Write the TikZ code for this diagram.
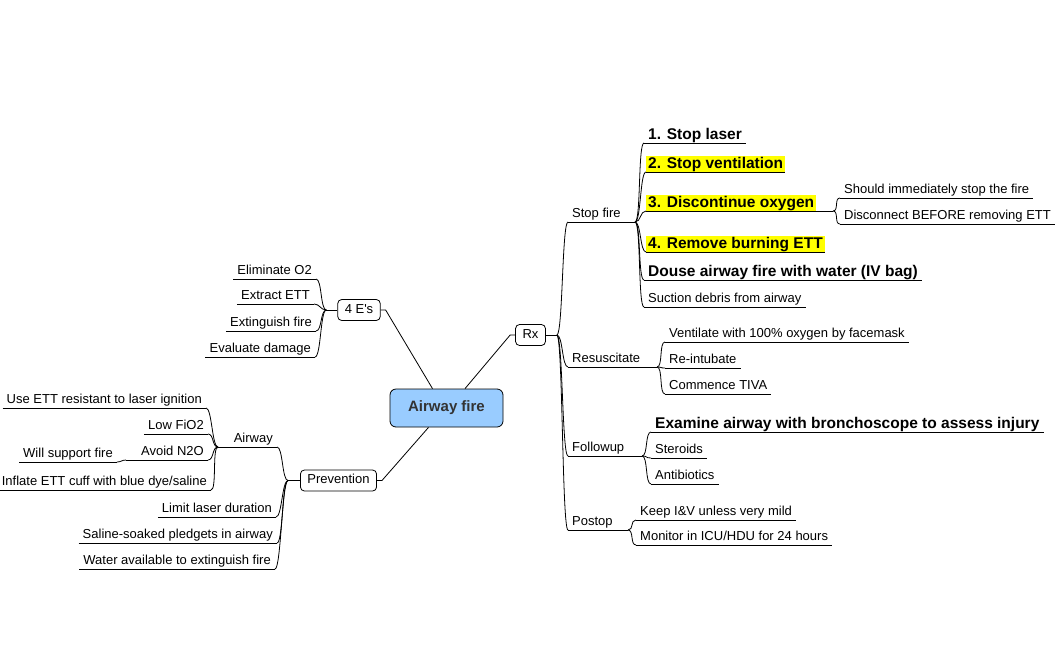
\documentclass[tikz,border=0pt]{standalone}
\usepackage{fontspec}
\setmainfont{Liberation Sans}
\usetikzlibrary{calc}
\definecolor{topicblue}{RGB}{153, 204, 255}
\definecolor{hiyellow}{RGB}{255, 255, 0}
\definecolor{centraltext}{RGB}{51, 51, 51}

\tikzset{
    link/.style={line width=0.8pt},
    leaf/.style={inner xsep=4pt, inner ysep=1pt, text height=9.5pt, text depth=3pt, font=\fontsize{13}{15}\selectfont},
    boldleaf/.style={leaf, text height=12pt, text depth=2pt, font=\fontsize{15.5}{18}\selectfont\bfseries},
    hilite/.style={boldleaf, fill=hiyellow, inner xsep=2pt},
    topic/.style={draw, line width=0.8pt, rounded corners=4pt, fill=white, inner xsep=7pt, minimum height=21pt,
        text height=9.5pt, text depth=3pt, font=\fontsize{13}{15}\selectfont},
    central/.style={draw, line width=0.8pt, rounded corners=6pt, fill=topicblue, minimum width=113pt, minimum height=38pt,
        font=\fontsize{15}{18}\selectfont\bfseries, text=centraltext}
}

\begin{document}
\begin{tikzpicture}[x=1pt, y=-1pt]
    \useasboundingbox (0,0) rectangle (1056,645);

    % main topics
    \node[central] (fire) at (446.5,408) {Airway fire};
    \node[topic] (rx) at (530.5,335) {Rx};
    \node[topic] (es) at (359,310) {4 E\textquotesingle s};
    \node[topic] (pv) at (338.5,480.5) {Prevention};

    \draw[link] (es.east) -- ++(5,0) -- ($(fire.north)+(-14,0)$);
    \draw[link] ($(fire.north)+(18.5,0)$) -- ($(rx.west)+(-5,0)$) -- (rx.west);
    \draw[link] (pv.east) -- ++(5,0) -- ($(fire.south)+(-18,0)$);

    % Rx
    \coordinate (rxJ) at ($(rx.east)+(11,0)$);
    \draw[link] (rx.east) -- (rxJ);
    \node[leaf, anchor=south west] (sf) at (568,222) {Stop fire};
    \node[leaf, anchor=south west] (rs) at (568,367) {Resuscitate};
    \node[leaf, anchor=south west] (fu) at (568,456) {Followup};
    \node[leaf, anchor=south west] (po) at (568,530) {Postop};
    \coordinate (sfJ) at (635,222);
    \coordinate (rsJ) at (657,367);
    \coordinate (fuJ) at (642,456);
    \coordinate (poJ) at (628,530);
    \foreach \n in {sf,rs,fu,po} {
        \draw[link] (rxJ) .. controls +(6,0) and +(-6,0) .. (\n.south west);
        \draw[link] (\n.south west) -- (\n J);
    }

    % Stop fire
    \node[boldleaf, anchor=south west] (s1) at (644,143) {1. Stop laser};
    \node[hilite, anchor=south west] (s2) at (646,172) {2. Stop ventilation};
    \node[hilite, anchor=south west] (s3) at (646,211) {3. Discontinue oxygen};
    \node[hilite, anchor=south west] (s4) at (646,252) {4. Remove burning ETT};
    \node[boldleaf, anchor=south west] (s5) at (644,280) {Douse airway fire with water (IV bag)};
    \node[leaf, anchor=south west] (s6) at (644,307) {Suction debris from airway};
    \foreach \n in {s1,s2,s3,s4,s5,s6}
        \draw[link] (sfJ) .. controls +(6,0) and +(-6,0) .. (\n.south west);

    \coordinate (s3J) at (833,211);
    \draw[link] (s3.south west) -- (s3J);
    \node[leaf, anchor=south west] (s3a) at (840,198) {Should immediately stop the fire};
    \node[leaf, anchor=south west] (s3b) at (840,224) {Disconnect BEFORE removing ETT};
    \foreach \n in {s3a,s3b}
        \draw[link] (s3J) .. controls +(6,0) and +(-6,0) .. (\n.south west);

    % Resuscitate
    \node[leaf, anchor=south west] (r1) at (665,342) {Ventilate with 100\% oxygen by facemask};
    \node[leaf, anchor=south west] (r2) at (665,368) {Re-intubate};
    \node[leaf, anchor=south west] (r3) at (665,394) {Commence TIVA};
    \foreach \n in {r1,r2,r3}
        \draw[link] (rsJ) .. controls +(6,0) and +(-6,0) .. (\n.south west);

    % Followup
    \node[boldleaf, anchor=south west] (f1) at (651,432) {Examine airway with bronchoscope to assess injury};
    \node[leaf, anchor=south west] (f2) at (651,458) {Steroids};
    \node[leaf, anchor=south west] (f3) at (651,484) {Antibiotics};
    \foreach \n in {f1,f2,f3}
        \draw[link] (fuJ) .. controls +(6,0) and +(-6,0) .. (\n.south west);

    % Postop
    \node[leaf, anchor=south west] (o1) at (636,520) {Keep I\&V unless very mild};
    \node[leaf, anchor=south west] (o2) at (636,545) {Monitor in ICU/HDU for 24 hours};
    \foreach \n in {o1,o2}
        \draw[link] (poJ) .. controls +(6,0) and +(-6,0) .. (\n.south west);

    % 4 E's
    \coordinate (esJ) at ($(es.west)+(-11,0)$);
    \draw[link] (es.west) -- (esJ);
    \node[leaf, anchor=south east] (e1) at (316,279) {Eliminate O2};
    \node[leaf, anchor=south east] (e2) at (314,304) {Extract ETT};
    \node[leaf, anchor=south east] (e3) at (316,331) {Extinguish fire};
    \node[leaf, anchor=south east] (e4) at (315,357) {Evaluate damage};
    \foreach \n in {e1,e2,e3,e4}
        \draw[link] (esJ) .. controls +(-6,0) and +(6,0) .. (\n.south east);

    % Prevention
    \coordinate (pvJ) at ($(pv.west)+(-12,0)$);
    \draw[link] (pv.west) -- (pvJ);
    \node[leaf, anchor=south east] (aw) at (277,447) {Airway};
    \node[leaf, anchor=south east] (p2) at (276,517) {Limit laser duration};
    \node[leaf, anchor=south east] (p3) at (277,543) {Saline-soaked pledgets in airway};
    \node[leaf, anchor=south east] (p4) at (275,569) {Water available to extinguish fire};
    \foreach \n in {aw,p2,p3,p4}
        \draw[link] (pvJ) .. controls +(-6,0) and +(6,0) .. (\n.south east);

    % Airway
    \coordinate (awJ) at (218,447);
    \draw[link] (awJ) -- (aw.south east);
    \node[leaf, anchor=south east] (a1) at (206,408) {Use ETT resistant to laser ignition};
    \node[leaf, anchor=south east] (a2) at (208,434) {Low FiO2};
    \node[leaf, anchor=south east] (an) at (208,460) {Avoid N2O};
    \node[leaf, anchor=south east] (a4) at (211,490) {Inflate ETT cuff with blue dye/saline};
    \foreach \n in {a1,a2,an,a4}
        \draw[link] (awJ) .. controls +(-6,0) and +(6,0) .. (\n.south east);

    \coordinate (anJ) at (126,460);
    \draw[link] (anJ) -- (an.south east);
    \node[leaf, anchor=south east] (ws) at (117,462) {Will support fire};
    \draw[link] (anJ) .. controls +(-4,0) and +(4,0) .. (ws.south east);

    % underlines of the leaves
    \foreach \n in {s1,s2,s4,s5,s6,s3a,s3b,r1,r2,r3,f1,f2,f3,o1,o2}
        \draw[link] (\n.south west) -- (\n.south east);
    \foreach \n in {e1,e2,e3,e4,p2,p3,p4,a1,a2,a4,ws}
        \draw[link] (\n.south west) -- (\n.south east);
\end{tikzpicture}
\end{document}
